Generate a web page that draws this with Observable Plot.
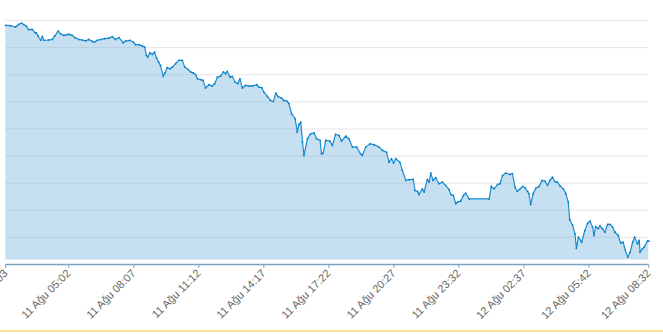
<!DOCTYPE html>
<html><head><meta charset="utf-8">
<script src="https://cdn.jsdelivr.net/npm/d3@7"></script>
<script src="https://cdn.jsdelivr.net/npm/@observablehq/plot@0.6"></script>
<style>
body{margin:0;background:#fff;overflow:hidden}
#chart svg{display:block}
.bar{height:2px;background:#f9e09b}
</style>
</head><body><div id="chart"></div><div class="bar"></div>
<script>
// Series start time; samples are given as minutes elapsed since this moment
const startTime = "2024-08-11T02:03:00";
const minutes = [0,13,28,37,45,51,59,65,75,83,87,92,99,104,108,122,132,139,149,156,165,175,181,189,196,208,217,227,236,246,252,260,270,281,293,303,312,322,334,341,353,363,369,379,388,395,400,404,410,417,423,429,435,440,448,453,459,467,474,483,492,502,509,518,526,533,540,545,554,561,568,578,587,594,602,611,619,625,630,638,644,652,660,666,673,682,692,701,714,720,728,734,744,753,761,768,774,784,791,799,805,813,823,829,834,839,844,848,858,867,877,884,894,898,903,910,922,929,938,948,955,967,976,986,998,1009,1014,1024,1036,1047,1062,1071,1083,1090,1097,1103,1109,1121,1128,1138,1147,1159,1164,1171,1175,1185,1190,1199,1204,1209,1215,1223,1232,1242,1251,1261,1266,1273,1280,1285,1294,1302,1308,1318,1375,1381,1389,1399,1406,1413,1422,1434,1441,1449,1455,1463,1470,1477,1484,1488,1493,1500,1508,1517,1525,1534,1541,1548,1555,1562,1569,1577,1586,1593,1600,1604,1612,1619,1623,1629,1638,1647,1655,1662,1669,1673,1678,1685,1690,1697,1704,1712,1719,1726,1733,1742,1749,1756,1762,1769,1776,1783,1789,1797,1802,1804,1811,1816,1825,1829];
const values = [8.82,8.81,8.76,8.86,8.90,8.85,8.78,8.66,8.67,8.55,8.54,8.42,8.27,8.41,8.27,8.28,8.30,8.42,8.61,8.51,8.45,8.48,8.49,8.45,8.37,8.30,8.28,8.25,8.30,8.23,8.20,8.27,8.30,8.33,8.35,8.40,8.30,8.37,8.18,8.24,8.27,8.20,8.11,8.11,8.06,8.02,7.71,7.65,7.81,7.75,7.83,7.61,7.46,7.34,6.94,7.07,7.26,7.22,7.28,7.41,7.53,7.53,7.28,7.20,7.10,7.07,7.00,6.85,6.82,6.79,6.51,6.63,6.58,6.67,6.91,6.95,7.10,7.04,7.12,6.91,6.94,6.73,6.67,6.85,6.51,6.61,6.58,6.58,6.63,6.54,6.52,6.36,6.20,6.05,6.01,6.32,6.20,6.14,6.05,6.03,5.94,5.56,5.38,4.88,5.17,5.25,4.51,4.02,4.64,4.82,4.85,4.64,4.58,4.08,4.11,4.58,4.55,4.39,4.80,4.76,4.55,4.73,4.64,4.33,4.33,4.08,4.02,4.33,4.45,4.42,4.33,4.21,4.14,3.77,3.90,3.74,3.90,3.77,3.47,3.10,3.13,3.14,2.73,2.70,2.58,2.79,2.67,3.14,3.04,3.37,3.10,3.20,2.98,3.04,2.92,2.76,2.58,2.55,2.24,2.30,2.34,2.55,2.63,2.42,2.42,2.88,2.79,2.95,2.98,3.28,3.37,3.32,3.35,2.83,2.70,2.79,2.88,2.83,2.70,2.61,2.21,2.61,2.82,2.88,3.10,3.07,2.92,3.10,3.22,3.06,3.04,2.89,2.79,2.61,2.30,1.65,1.46,1.13,0.60,1.01,0.82,1.25,1.52,1.60,1.38,1.07,1.40,1.32,1.43,1.32,1.19,1.48,1.48,1.38,1.19,1.07,0.79,0.82,0.54,0.27,0.45,0.82,1.01,0.76,0.89,0.45,0.58,0.64,0.86,0.86];
const tickTimes = ["2024-08-11T02:03:00","2024-08-11T05:02:00","2024-08-11T08:07:00","2024-08-11T11:12:00","2024-08-11T14:17:00","2024-08-11T17:22:00","2024-08-11T20:27:00","2024-08-11T23:32:00","2024-08-12T02:37:00","2024-08-12T05:42:00","2024-08-12T08:32:00"];
const gridValues = [1,2,3,4,5,6,7,8,9];
const axisValue = 0;
const baseline = 0.17;
const monthNames = ["Oca","Şub","Mar","Nis","May","Haz","Tem","Ağu","Eyl","Eki","Kas","Ara"];

const t0 = new Date(startTime).getTime();
const data = minutes.map((m, i) => ({time: new Date(t0 + m * 60000), value: values[i]}));
const ticks = tickTimes.map(s => new Date(s));
const pad = n => String(n).padStart(2, "0");
const fmt = d => `${d.getDate()} ${monthNames[d.getMonth()]} ${pad(d.getHours())}:${pad(d.getMinutes())}`;

const chart = Plot.plot({
  width: 663,
  height: 330,
  marginLeft: 5.3,
  marginRight: 14.7,
  marginTop: 20,
  marginBottom: 66,
  style: {fontFamily: "'Liberation Sans', Arial, sans-serif", fontSize: "11px", background: "#fff", overflow: "visible"},
  x: {type: "time", domain: [ticks[0], ticks[ticks.length - 1]]},
  y: {domain: [0, 9], axis: null},
  marks: [
    Plot.ruleY(gridValues, {stroke: "#e6e6e6", strokeWidth: 1}),
    Plot.areaY(data, {x: "time", y1: () => baseline, y2: "value", fill: "#70b1df", fillOpacity: 0.4}),
    Plot.lineY(data, {x: "time", y: "value", stroke: "#1a8cd0", strokeWidth: 1.2}),
    Plot.dot(data, {x: "time", y: "value", r: 0.9, fill: "#0b7ec4", stroke: null}),
    Plot.ruleY([axisValue], {stroke: "#7aa3c2", strokeWidth: 1.5}),
    Plot.axisX(ticks, {tickFormat: fmt, tickRotate: -45, tickSize: 4, tickPadding: 3, stroke: "#7aa3c2", fill: "#666", fontSize: 11, label: null})
  ]
});
document.getElementById("chart").appendChild(chart);
</script>
</body></html>
